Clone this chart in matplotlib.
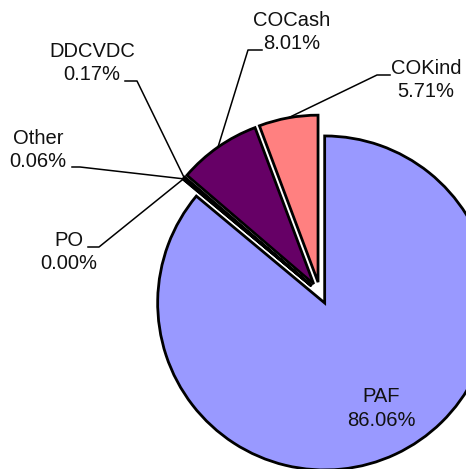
import numpy as np
import matplotlib.pyplot as plt

labels = ["PAF", "PO", "Other", "DDCVDC", "COCash", "COKind"]
shares = [86.06, 0.00, 0.06, 0.17, 8.01, 5.71]
colors = ["#9999FF", "#993366", "#FFFFCC", "#CCFFFF", "#660066", "#FF8080"]

# canvas in pixels, y measured from the top
W, H = 466, 469
cx, cy, r, gap = 320, 293, 167, 11

# text block centre and leader landing (far end, elbow) per slice
label_pos = {
    "PAF": (381.5, 408.5),
    "PO": (69, 252),
    "Other": (38, 150),
    "DDCVDC": (92, 63),
    "COCash": (292, 32),
    "COKind": (426, 80),
}
leaders = {
    "PO": ((88, 247), (99, 247)),
    "Other": ((72, 167), (80, 167)),
    "DDCVDC": ((125, 81), (137, 81)),
    "COCash": ((262, 50), (248, 50)),
    "COKind": ((390, 75), (377, 75)),
}

fig = plt.figure(figsize=(W / 100, H / 100), dpi=100)
ax = fig.add_axes([0, 0, 1, 1])

wedges, _ = ax.pie(shares, colors=colors, startangle=90, counterclock=False,
                   radius=r, center=(cx, H - cy), explode=[gap] * len(shares),
                   wedgeprops=dict(edgecolor="black", linewidth=2))

for w, name, share in zip(wedges, labels, shares):
    tx, ty = label_pos[name]
    ax.text(tx, H - ty, f"{name}\n{share:.2f}%", ha="center", va="center",
            fontsize=14.5, family="Liberation Sans", linespacing=1.32,
            color="#111111")
    if name in leaders:
        (x0, y0), (x1, y1) = leaders[name]
        th = np.radians((w.theta1 + w.theta2) / 2)
        px = w.center[0] + w.r * np.cos(th)
        py = w.center[1] + w.r * np.sin(th)
        ax.plot([x0, x1, px], [H - y0, H - y1, py], color="black", lw=1.1)

ax.set_xlim(0, W)
ax.set_ylim(0, H)
ax.set_aspect("equal")
ax.axis("off")

fig.savefig("out.png", dpi=100)
